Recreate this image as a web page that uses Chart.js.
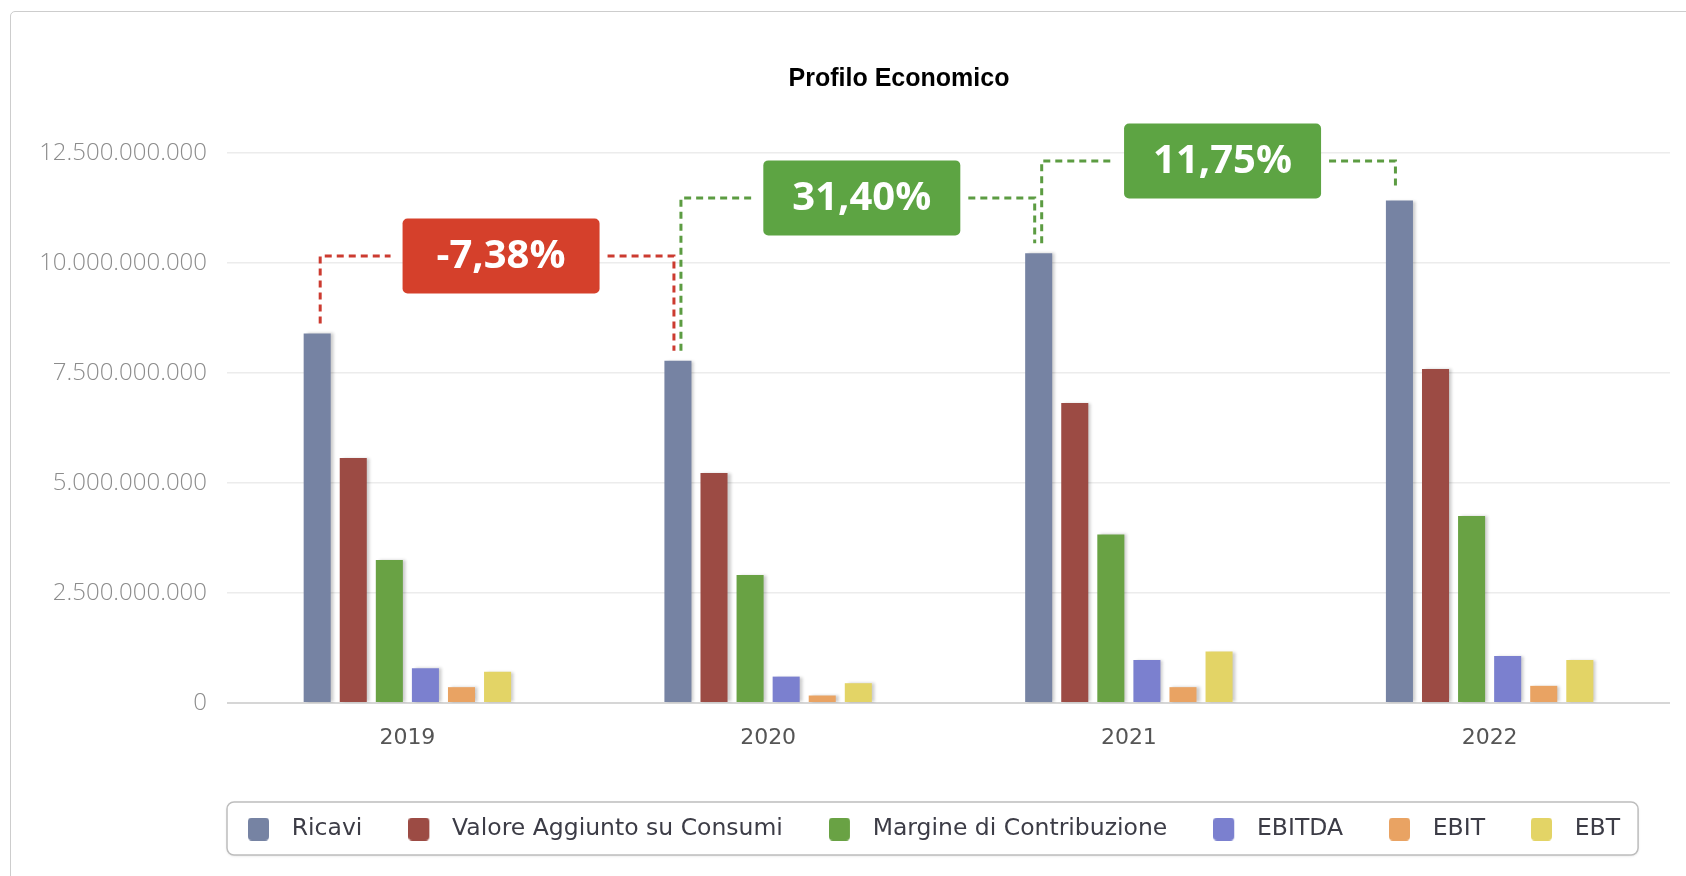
<!DOCTYPE html>
<html lang="it">
<head>
<meta charset="utf-8">
<title>Profilo Economico</title>
<script src="https://cdn.jsdelivr.net/npm/chart.js@4.4.0/dist/chart.umd.min.js"></script>
<style>
    html, body { margin: 0; padding: 0; background: #fff; overflow: hidden; }
    .card {
        position: absolute; left: 10px; top: 11px;
        width: 1800px; height: 950px;
        border: 1px solid #cdcdcd; border-radius: 5px;
    }
    #profiloChart { position: absolute; left: 11px; top: 12px; }
</style>
</head>
<body>
<div class="card"></div>
<canvas id="profiloChart" width="1675" height="864"></canvas>
<script>
// anni e serie
var anni = ['2019', '2020', '2021', '2022'];
var ricavi = [8400000000, 7780000000, 10220000000, 11420000000];
var valoreAggiunto = [5570000000, 5230000000, 6820000000, 7590000000];
var margineContribuzione = [3250000000, 2910000000, 3830000000, 4250000000];
var ebitda = [790000000, 600000000, 980000000, 1070000000];
var ebit = [360000000, 170000000, 360000000, 390000000];
var ebt = [710000000, 450000000, 1170000000, 980000000];

// variazioni dei ricavi anno su anno e quota delle linee tratteggiate
var variazioni = ['-7,38%', '31,40%', '11,75%'];
var livelliVariazione = [10160000000, 11480000000, 12320000000];

var nomiSerie = ['Ricavi', 'Valore Aggiunto su Consumi', 'Margine di Contribuzione', 'EBITDA', 'EBIT', 'EBT'];
var coloriSerie = ['#7683a3', '#9c4b44', '#69a244', '#7b80cf', '#e9a363', '#e3d466'];

function formatta(v) {
    return String(Math.round(v)).replace(/\B(?=(\d{3})+(?!\d))/g, '.');
}

// quadratino della legenda con spazio a destra
function marker(colore) {
    var c = document.createElement('canvas');
    c.width = 32;
    c.height = 23;
    var g = c.getContext('2d');
    g.fillStyle = colore;
    g.beginPath();
    g.roundRect(0, 0, 21, 23, 4);
    g.fill();
    return c;
}
var markers = coloriSerie.map(marker);

var ombraBarre = {
    id: 'ombraBarre',
    beforeDatasetsDraw: function (chart) {
        var ctx = chart.ctx;
        ctx.save();
        ctx.shadowColor = 'rgba(0, 0, 0, 0.2)';
        ctx.shadowOffsetX = 3;
        ctx.shadowOffsetY = 0;
        ctx.shadowBlur = 3;
    },
    afterDatasetsDraw: function (chart) {
        chart.ctx.restore();
    }
};

var cornice = {
    id: 'cornice',
    afterLayout: function (chart) {
        // titolo centrato sulla scheda, legenda allineata al riquadro
        chart.titleBlock.left = 117;
        chart.legend.left = chart.chartArea.left - 25;
    },
    beforeDraw: function (chart) {
        var boxes = chart.legend.legendHitBoxes;
        if (!boxes || !boxes.length) return;
        var first = boxes[0], last = boxes[boxes.length - 1];
        var cy = first.top + first.height / 2;
        var x0 = first.left - 21, x1 = last.left + last.width + 18;
        var ctx = chart.ctx;
        ctx.save();
        ctx.shadowColor = 'rgba(0, 0, 0, 0.12)';
        ctx.shadowBlur = 3;
        ctx.shadowOffsetY = 1;
        ctx.fillStyle = '#fff';
        ctx.strokeStyle = '#bdbdbd';
        ctx.lineWidth = 1.5;
        ctx.beginPath();
        ctx.roundRect(x0, cy - 27, x1 - x0, 53, 7);
        ctx.fill();
        ctx.shadowColor = 'transparent';
        ctx.stroke();
        ctx.restore();
    }
};

var variazioniRicavi = {
    id: 'variazioniRicavi',
    afterDatasetsDraw: function (chart) {
        var ctx = chart.ctx;
        var barre = chart.getDatasetMeta(0).data;
        var y = chart.scales.y;
        variazioni.forEach(function (testo, i) {
            var a = barre[i], b = barre[i + 1];
            var x1 = a.x + 3, x2 = b.x - 4;
            var yl = y.getPixelForValue(livelliVariazione[i]);
            var negativo = testo.charAt(0) === '-';
            var bw = 197, bh = 75;
            var bx = (x1 + x2) / 2 + 4;

            ctx.save();
            ctx.strokeStyle = negativo ? '#cc3b30' : '#5c9c42';
            ctx.lineWidth = 3;
            ctx.setLineDash([7, 5]);
            ctx.beginPath();
            ctx.moveTo(x1, a.y - 10);
            ctx.lineTo(x1, yl);
            ctx.lineTo(bx - bw / 2 - 12, yl);
            ctx.moveTo(bx + bw / 2 + 8, yl);
            ctx.lineTo(x2, yl);
            ctx.lineTo(x2, b.y - 10);
            ctx.stroke();

            ctx.setLineDash([]);
            ctx.fillStyle = negativo ? '#d5402b' : '#5da443';
            ctx.beginPath();
            ctx.roundRect(bx - bw / 2, yl - bh / 2, bw, bh, 5);
            ctx.fill();

            ctx.fillStyle = '#fff';
            ctx.font = 'bold 40px "Open Sans"';
            ctx.textAlign = 'center';
            ctx.textBaseline = 'middle';
            ctx.fillText(testo, bx, yl + 1);
            ctx.restore();
        });
    }
};

var serie = [ricavi, valoreAggiunto, margineContribuzione, ebitda, ebit, ebt];
var datasets = serie.map(function (valori, i) {
    return {
        label: nomiSerie[i],
        data: valori,
        backgroundColor: coloriSerie[i],
        borderWidth: 0,
        categoryPercentage: 0.6,
        barPercentage: 0.75
    };
});

var ctx = document.getElementById('profiloChart').getContext('2d');
var profiloChart = new Chart(ctx, {
    type: 'bar',
    data: { labels: anni, datasets: datasets },
    plugins: [cornice, ombraBarre, variazioniRicavi],
    options: {
        responsive: false,
        animation: false,
        layout: { padding: { left: 0, right: 16, top: 0, bottom: 25.25 } },
        scales: {
            x: {
                grid: { display: false, drawTicks: false },
                border: { display: false },
                ticks: {
                    padding: 22,
                    color: '#555',
                    font: { family: '"DejaVu Sans"', size: 22 }
                },
                afterFit: function (scale) { scale.height = 68.25; }
            },
            y: {
                min: 0,
                max: 12500000000,
                grid: {
                    drawTicks: false,
                    color: function (c) { return c.tick && c.tick.value === 0 ? '#d6d6d6' : '#ececec'; },
                    lineWidth: function (c) { return c.tick && c.tick.value === 0 ? 2 : 1.5; }
                },
                border: { display: false },
                ticks: {
                    stepSize: 2500000000,
                    padding: 20,
                    color: '#8c8c8c',
                    font: { family: '"Open Sans"', size: 24, weight: 300 },
                    callback: function (v) { return formatta(v); }
                },
                afterFit: function (scale) { scale.width = 216; }
            }
        },
        plugins: {
            title: {
                display: true,
                text: 'Profilo Economico',
                color: '#000',
                font: { family: '"Liberation Sans"', size: 25, weight: 'bold' },
                padding: { top: 52, bottom: 59 }
            },
            legend: {
                position: 'bottom',
                align: 'start',
                labels: {
                    usePointStyle: true,
                    pointStyleWidth: 32,
                    padding: 46,
                    color: '#3c3c46',
                    font: { family: '"DejaVu Sans"', size: 23.5 },
                    generateLabels: function (chart) {
                        var items = Chart.defaults.plugins.legend.labels.generateLabels(chart);
                        items.forEach(function (item, i) { item.pointStyle = markers[i]; });
                        return items;
                    }
                }
            },
            tooltip: { enabled: false }
        }
    }
});
</script>
</body>
</html>
